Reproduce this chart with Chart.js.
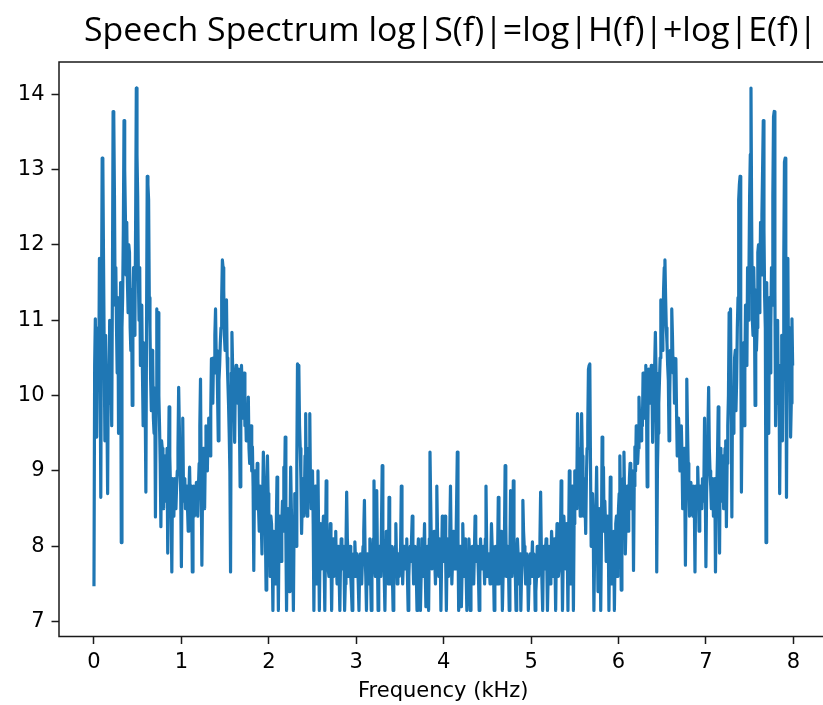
<!DOCTYPE html>
<html>
<head>
<meta charset="utf-8">
<script src="https://cdn.jsdelivr.net/npm/chart.js@4/dist/chart.umd.min.js"></script>
<style>
  html, body { margin: 0; padding: 0; background: #fff; overflow: hidden; }
  #wrap { width: 823px; height: 705px; overflow: hidden; position: relative; }
  canvas { display: block; }
</style>
</head>
<body>
<div id="wrap"><canvas id="c" width="840" height="705"></canvas></div>
<script>
// Log-magnitude spectrum of a speech frame, 1024-point FFT at 8 kHz sampling.
const SAMPLE_RATE_KHZ = 8;
const FFT_SIZE = 1024;
const BIN_KHZ = SAMPLE_RATE_KHZ / FFT_SIZE;

const TITLE = 'Speech Spectrum log|S(f)|=log|H(f)|+log|E(f)|';
const X_LABEL = 'Frequency (kHz)';
const xTicks = [0, 1, 2, 3, 4, 5, 6, 7, 8];
const yTicks = [7, 8, 9, 10, 11, 12, 13, 14];

// log|S(f)| per FFT bin, one array per kHz band
const spec0to1 = [
  7.47, 10.4, 11.02, 9.9, 9.45, 10.6, 10.9, 10.2, 11.82, 10.5, 8.65, 11.2, 13.15, 13.1, 11.8, 10.6,
  9.4, 10.8, 10.3, 9.8, 8.7, 10.4, 9.9, 11.0, 10.5, 10.2, 9.6, 11.4, 13.77, 13.7, 12.65, 11.2,
  11.7, 10.9, 10.3, 11.3, 9.5, 10.8, 10.6, 11.5, 8.05, 10.9, 11.3, 12.2, 13.65, 13.0, 12.4, 11.6,
  12.3, 11.5, 11.1, 12.0, 11.9, 10.9, 10.6, 11.4, 9.87, 11.2, 11.7, 10.8, 11.0, 12.3, 14.08, 13.2,
  12.65, 11.6, 11.0, 11.7, 10.4, 10.9, 11.2, 10.3, 9.6, 10.7, 10.5, 9.9, 8.72, 11.0, 12.91, 12.8,
  12.6, 11.3, 10.9, 10.2, 9.8, 10.6, 10.5, 9.7, 9.5, 10.1, 8.39, 9.9, 11.15, 10.6, 11.1, 10.0,
  9.6, 9.1, 8.26, 9.4, 9.3, 8.9, 8.5, 9.2, 9.0, 8.6, 8.7, 9.3, 7.91, 9.0, 9.85, 9.2,
  8.8, 8.5, 7.66, 8.9, 8.7, 8.4, 8.9, 8.6, 8.5, 8.8, 9.0, 9.3, 10.11, 9.6, 9.1, 8.7
];
const spec1to2 = [
  7.73, 8.9, 9.7, 8.8, 8.6, 8.9, 8.5, 8.7, 8.8, 8.5, 8.2, 8.7, 9.05, 8.6, 8.5, 8.8,
  7.66, 8.6, 8.8, 8.4, 8.5, 8.7, 8.85, 8.5, 8.4, 8.8, 9.1, 9.6, 10.22, 8.9, 7.75, 8.8,
  9.3, 8.9, 8.5, 9.2, 9.6, 9.1, 9.0, 9.5, 9.7, 9.3, 9.2, 9.8, 10.49, 10.2, 9.9, 10.5,
  10.3, 10.8, 11.15, 10.5, 10.6, 10.0, 9.4, 10.2, 10.4, 10.7, 10.9, 11.3, 11.8, 11.7, 11.4, 10.8,
  10.6, 11.0, 11.27, 10.5, 10.2, 9.9, 9.5, 9.0, 7.66, 10.3, 10.84, 10.4, 10.1, 9.9, 9.38, 10.2,
  10.4, 10.0, 9.9, 10.3, 10.35, 9.6, 8.79, 9.9, 10.4, 10.1, 9.7, 10.2, 10.3, 9.6, 9.8, 9.4,
  9.5, 9.7, 9.98, 9.3, 9.1, 9.5, 9.6, 9.0, 9.32, 8.8, 7.68, 8.9, 9.0, 8.7, 8.5, 9.1,
  8.9, 8.5, 8.2, 8.8, 8.7, 8.3, 7.9, 8.6, 9.25, 8.9, 8.8, 8.2, 7.42, 8.5, 9.2, 8.7
];
const spec2to3 = [
  8.5, 8.1, 7.6, 8.4, 8.3, 7.9, 7.15, 8.2, 8.1, 7.8, 7.5, 8.3, 8.92, 8.0, 7.15, 8.2,
  8.4, 8.0, 7.8, 8.3, 8.6, 8.2, 9.05, 8.7, 9.45, 8.1, 7.15, 8.3, 8.5, 7.9, 7.4, 8.2,
  9.05, 8.5, 8.2, 7.9, 7.15, 8.3, 8.7, 8.4, 8.0, 9.1, 10.42, 10.4, 10.35, 9.6, 9.3, 8.9,
  8.17, 8.6, 8.9, 8.4, 8.6, 9.2, 9.76, 8.8, 8.4, 8.9, 9.3, 9.0, 9.76, 8.8, 8.5, 8.8,
  9.0, 8.3, 7.15, 8.2, 8.8, 8.0, 7.5, 8.4, 9.0, 8.1, 7.15, 7.9, 8.3, 7.7, 7.9, 8.2,
  8.4, 7.8, 7.15, 8.0, 8.87, 8.1, 8.0, 7.7, 7.6, 8.0, 8.3, 7.9, 7.15, 7.8, 8.1, 7.6,
  7.8, 8.0, 8.2, 7.7, 7.5, 7.9, 8.0, 7.6, 7.15, 7.8, 8.1, 7.9, 7.7, 8.0, 7.9, 7.15,
  7.5, 8.0, 8.72, 8.1, 7.9, 7.6, 7.7, 8.0, 7.6, 7.4, 7.15, 7.7, 7.9, 7.6, 8.06, 7.8
];
const spec3to4 = [
  7.6, 7.9, 7.8, 7.5, 7.15, 7.7, 7.9, 7.6, 7.5, 7.8, 8.0, 8.2, 8.61, 7.9, 7.6, 7.15,
  7.9, 7.7, 7.5, 7.9, 8.1, 7.6, 7.15, 7.6, 7.8, 8.1, 8.87, 8.0, 7.6, 8.1, 8.74, 7.9,
  7.15, 7.7, 8.0, 7.8, 7.6, 8.3, 9.07, 8.1, 7.9, 7.6, 7.15, 7.8, 8.2, 7.9, 7.7, 7.5,
  8.65, 7.9, 7.5, 7.8, 8.0, 7.6, 7.15, 7.7, 7.9, 8.0, 8.3, 7.8, 7.5, 7.7, 7.9, 7.6,
  7.6, 8.0, 8.8, 8.1, 7.5, 7.8, 8.0, 7.7, 7.7, 7.9, 8.1, 7.6, 7.15, 7.6, 7.9, 8.0,
  7.8, 8.1, 8.4, 7.9, 7.5, 7.7, 8.0, 7.8, 7.6, 7.15, 7.9, 8.1, 7.7, 7.5, 7.15, 7.6,
  8.1, 7.8, 7.6, 7.9, 8.3, 7.7, 7.2, 7.8, 8.0, 7.6, 7.15, 8.1, 9.25, 8.6, 8.0, 7.7,
  7.7, 7.9, 8.2, 7.8, 7.5, 8.0, 8.8, 8.2, 7.8, 7.6, 8.1, 7.9, 7.15, 7.8, 8.4, 8.0,
  7.8
];
const spec4to5 = [
  8.0, 8.4, 7.8, 7.15, 7.9, 8.1, 7.6, 7.8, 8.2, 8.8, 8.0, 7.5, 7.8, 8.2, 7.9, 7.7,
  7.7, 8.0, 8.6, 9.25, 8.1, 7.15, 7.6, 8.0, 7.8, 7.2, 7.7, 8.3, 7.9, 7.6, 7.8, 8.1,
  7.6, 7.15, 7.5, 7.7, 8.1, 7.9, 7.15, 7.6, 7.8, 8.0, 7.7, 7.5, 7.9, 8.4, 8.1, 7.8,
  8.0, 7.9, 7.6, 7.15, 7.6, 8.1, 7.9, 7.7, 7.7, 8.0, 7.8, 7.5, 8.1, 8.8, 8.0, 7.6,
  7.6, 7.9, 7.7, 7.5, 7.8, 8.3, 8.0, 7.9, 7.7, 7.15, 7.6, 8.0, 7.8, 7.5, 7.9, 8.65,
  7.5, 7.7, 7.9, 8.2, 7.8, 7.15, 7.6, 7.9, 8.1, 9.07, 8.3, 7.6, 7.8, 8.0, 7.7, 7.15,
  7.9, 8.74, 8.1, 7.6, 8.0, 8.87, 8.1, 7.8, 7.6, 7.15, 7.6, 8.1, 7.9, 7.5, 7.7, 7.9,
  7.15, 7.6, 7.9, 8.61, 8.2, 8.0, 7.8, 7.5, 7.6, 7.9, 7.7, 7.15, 7.5, 7.8, 7.9
];
const spec5to6 = [
  7.6,
  7.8, 8.06, 7.6, 7.9, 7.7, 7.15, 7.4, 7.6, 8.0, 7.7, 7.6, 7.9, 8.1, 8.72, 8.0, 7.5,
  7.15, 7.9, 8.0, 7.7, 7.9, 8.1, 7.8, 7.15, 7.6, 8.0, 7.9, 7.5, 7.7, 8.2, 8.0, 7.8,
  7.6, 8.1, 7.8, 7.15, 7.9, 8.3, 8.0, 7.6, 7.7, 8.0, 8.1, 8.87, 8.0, 7.15, 7.8, 8.4,
  8.2, 7.9, 7.7, 8.3, 7.9, 7.15, 8.1, 9.0, 8.4, 7.5, 8.0, 8.8, 8.2, 7.15, 8.3, 9.0,
  8.8, 8.5, 8.8, 9.76, 9.0, 9.3, 8.9, 8.4, 8.8, 9.76, 9.2, 8.6, 8.4, 8.9, 8.6, 8.17,
  8.9, 9.3, 9.6, 10.35, 10.4, 10.42, 9.1, 8.0, 8.4, 8.7, 8.3, 7.15, 7.9, 8.2, 8.5, 9.05,
  8.2, 7.4, 7.9, 8.5, 8.3, 7.15, 8.1, 9.45, 8.7, 9.05, 8.2, 8.6, 8.3, 7.8, 8.0, 8.4,
  8.2, 7.15, 8.0, 8.92, 8.3, 7.5, 7.8, 8.1, 8.2, 7.15, 7.9, 8.3, 8.4, 7.6, 8.1
];
const spec6to7 = [
  8.5,
  8.7, 9.2, 8.5, 7.42, 8.2, 8.8, 8.9, 9.25, 8.6, 7.9, 8.3, 8.7, 8.8, 8.2, 8.5, 8.9,
  9.1, 8.5, 8.7, 9.0, 8.9, 7.68, 8.8, 9.32, 9.0, 9.6, 9.5, 9.1, 9.3, 9.98, 9.7, 9.5,
  9.4, 9.8, 9.6, 10.3, 10.2, 9.7, 10.1, 10.4, 9.9, 8.79, 9.6, 10.35, 10.3, 9.9, 10.0, 10.4,
  10.2, 9.38, 9.9, 10.1, 10.4, 10.84, 10.3, 7.66, 9.0, 9.5, 9.9, 10.2, 10.5, 11.27, 11.0, 10.6,
  10.8, 11.4, 11.7, 11.8, 11.3, 10.9, 10.7, 10.4, 10.2, 9.4, 10.0, 10.6, 10.5, 11.15, 10.8, 10.3,
  10.5, 9.9, 10.2, 10.49, 9.8, 9.2, 9.3, 9.7, 9.5, 9.0, 9.1, 9.6, 9.2, 8.5, 8.9, 9.3,
  8.8, 7.75, 8.9, 10.22, 9.6, 9.1, 8.8, 8.4, 8.5, 8.85, 8.7, 8.5, 8.4, 8.8, 8.6, 7.66,
  8.8, 8.5, 8.6, 9.05, 8.7, 8.2, 8.5, 8.8, 8.7, 8.5, 8.9, 8.6, 8.8, 9.7, 8.9
];
const spec7to8 = [
  7.73,
  8.7, 9.1, 9.6, 10.11, 9.3, 9.0, 8.8, 8.5, 8.6, 8.9, 8.4, 8.7, 8.9, 7.66, 8.5, 8.8,
  9.2, 9.85, 9.0, 7.91, 9.3, 8.7, 8.6, 9.0, 9.2, 8.5, 8.9, 9.3, 9.4, 8.26, 9.1, 9.6,
  10.0, 11.1, 10.6, 11.15, 9.9, 8.39, 10.1, 9.5, 9.7, 10.5, 10.6, 9.8, 10.2, 10.9, 11.3, 12.6,
  12.8, 12.91, 11.0, 8.72, 9.9, 10.5, 10.7, 9.6, 10.3, 11.2, 10.9, 10.4, 11.7, 11.0, 11.6, 12.65,
  13.2, 14.08, 12.3, 11.0, 10.8, 11.7, 11.2, 9.87, 11.4, 10.6, 10.9, 11.9, 12.0, 11.1, 11.5, 12.3,
  11.6, 12.4, 13.0, 13.65, 12.2, 11.3, 10.9, 8.05, 11.5, 10.6, 10.8, 9.5, 11.3, 10.3, 10.9, 11.7,
  11.2, 12.65, 13.7, 13.77, 11.4, 9.6, 10.2, 10.5, 11.0, 9.9, 10.4, 8.7, 9.8, 10.3, 10.8, 9.4,
  10.6, 11.8, 13.1, 13.15, 11.2, 8.65, 10.5, 11.82, 10.2, 10.9, 10.6, 9.45, 9.9, 11.02, 10.4
];

const magnitudes = [].concat(spec0to1, spec1to2, spec2to3, spec3to4,
                             spec4to5, spec5to6, spec6to7, spec7to8);
// bin k sits at frequency k * fs / N
const points = magnitudes.map((v, k) => ({ x: k * BIN_KHZ, y: v }));

const TICK_FONT = { family: 'DejaVu Sans', size: 21 };
const AXIS_COLOR = '#1a1a1a';

// Open frame: left, bottom and top edges of the plot area
const framePlugin = {
  id: 'frame',
  afterDraw(chart) {
    const { ctx, chartArea: a } = chart;
    ctx.save();
    ctx.strokeStyle = AXIS_COLOR;
    ctx.lineWidth = 1.5;
    ctx.beginPath();
    ctx.moveTo(chart.width, a.top);
    ctx.lineTo(a.left, a.top);
    ctx.lineTo(a.left, a.bottom);
    ctx.lineTo(chart.width, a.bottom);
    ctx.stroke();
    ctx.restore();
  }
};

// Large heading, condensed to span the plot width
const headingPlugin = {
  id: 'heading',
  afterDraw(chart) {
    const ctx = chart.ctx;
    ctx.save();
    ctx.font = '32px "Open Sans"';
    ctx.fillStyle = '#000';
    ctx.textBaseline = 'alphabetic';
    ctx.textAlign = 'left';
    const w = ctx.measureText(TITLE).width;
    const target = 733;
    ctx.translate(84, 41);
    ctx.scale(target / w, 1);
    ctx.fillText(TITLE, 0, 0);
    ctx.restore();
  }
};

new Chart(document.getElementById('c'), {
  type: 'line',
  data: {
    datasets: [{
      data: points,
      borderColor: '#1f77b4',
      borderWidth: 3.2,
      pointRadius: 0,
      tension: 0,
      fill: false,
      borderJoinStyle: 'round',
      borderCapStyle: 'butt'
    }]
  },
  options: {
    responsive: false,
    animation: false,
    devicePixelRatio: 1,
    layout: { padding: { top: 62, right: 12.4, left: 0, bottom: 0 } },
    plugins: { legend: { display: false }, tooltip: { enabled: false }, title: { display: false } },
    scales: {
      x: {
        type: 'linear',
        min: -0.4,
        max: 8.392,
        afterBuildTicks(scale) { scale.ticks = xTicks.map(v => ({ value: v })); },
        afterFit(scale) { scale.height = 68.5; },
        ticks: {
          font: TICK_FONT, color: '#000', padding: 6, maxRotation: 0,
          callback: (v) => String(v)
        },
        grid: { display: true, drawOnChartArea: false, drawTicks: true, tickLength: 7.5, tickColor: AXIS_COLOR, tickWidth: 1.5 },
        border: { display: false },
        title: {
          display: true, text: X_LABEL, font: TICK_FONT, color: '#000',
          padding: { top: 0, bottom: 1 }
        }
      },
      y: {
        type: 'linear',
        min: 6.8035,
        max: 14.4265,
        afterBuildTicks(scale) { scale.ticks = yTicks.map(v => ({ value: v })); },
        afterFit(scale) { scale.width = 59; },
        ticks: {
          font: TICK_FONT, color: '#000', padding: 7,
          callback: (v) => String(v)
        },
        grid: { display: true, drawOnChartArea: false, drawTicks: true, tickLength: 7.5, tickColor: AXIS_COLOR, tickWidth: 1.5 },
        border: { display: false }
      }
    }
  },
  plugins: [framePlugin, headingPlugin]
});
</script>
</body>
</html>
